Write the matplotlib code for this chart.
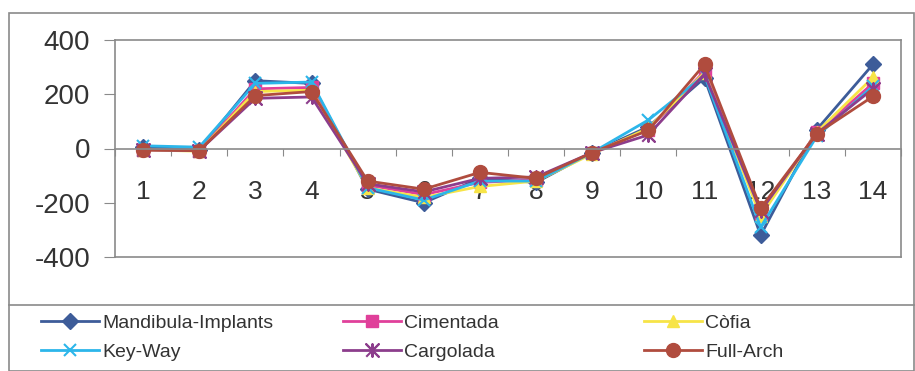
import matplotlib.pyplot as plt
from matplotlib.patches import Rectangle
from matplotlib.lines import Line2D
import numpy as np

categories = list(range(1, 15))

mandibula = [5, -5, 250, 240, -150, -200, -110, -125, -15, 80, 260, -320, 70, 310]
cimentada = [-5, -8, 220, 225, -135, -170, -125, -115, -15, 70, 285, -240, 60, 240]
cofia = [-5, -10, 210, 215, -145, -180, -140, -120, -20, 75, 280, -250, 60, 262]
keyway = [10, 5, 240, 245, -145, -190, -120, -120, -15, 105, 270, -290, 45, 230]
cargolada = [-5, -8, 185, 190, -130, -160, -110, -105, -15, 50, 275, -230, 55, 220]
fullarch = [-5, -8, 195, 210, -120, -150, -88, -110, -15, 67, 310, -220, 55, 192]

names = ['Mandibula-Implants', 'Cimentada', 'Còfia', 'Key-Way', 'Cargolada', 'Full-Arch']
series = [mandibula, cimentada, cofia, keyway, cargolada, fullarch]
colors = ['#3d5c99', '#e0409a', '#f7e447', '#2cb6ea', '#8c3d8c', '#b04c3e']
# excel-style star: x with a vertical bar
star = [(-1, -1), (1, 1), (0, 0), (-1, 1), (1, -1), (0, 0), (0, 1), (0, -1), (0, 0)]
markers = ['D', 's', '^', 'x', star, 'o']
msizes = [8, 8, 9, 9, 9, 10]

plt.rcParams['font.family'] = ['Liberation Sans', 'DejaVu Sans']
plt.rcParams['axes.unicode_minus'] = False

W, H = 915, 371
fig = plt.figure(figsize=(W / 100, H / 100), dpi=100)

# outer chart border and legend box
fig.patches.append(Rectangle((9 / W, 0), 905 / W, 1 - 13 / H, transform=fig.transFigure,
                             fill=False, edgecolor='#8a8a8a', linewidth=1.2))
fig.lines.append(Line2D([9 / W, 914 / W], [1 - 305 / H, 1 - 305 / H], transform=fig.transFigure,
                        color='#8a8a8a', linewidth=1.2))

ax = fig.add_axes([115 / W, 1 - 257 / H, 786 / W, 217 / H])
x = np.arange(1, 15)
for vals, name, c, m, ms in zip(series, names, colors, markers, msizes):
    ax.plot(x, vals, color=c, marker=m, markersize=ms, linewidth=2, label=name,
            markeredgewidth=1.5 if m in ('x',) or isinstance(m, list) else 1,
            markeredgecolor=c)

ax.set_xlim(0.5, 14.5)
ax.set_ylim(-400, 400)
ax.set_yticks([-400, -200, 0, 200, 400])
ax.tick_params(axis='y', direction='out', length=8, color='#8a8a8a', labelsize=20,
               labelcolor='#333333', pad=10)

for s in ax.spines.values():
    s.set_color('#8a8a8a')
    s.set_linewidth(1.2)
ax.spines['bottom'].set_position(('data', 0))
ax.plot([0, 1], [0, 0], transform=ax.transAxes, color='#8a8a8a', linewidth=1.2, clip_on=False)

ax.set_xticks(np.arange(0.5, 15, 1))
ax.set_xticklabels([])
ax.set_xticks(x, minor=True)
ax.set_xticklabels([str(c) for c in categories], minor=True)
ax.tick_params(axis='x', which='major', direction='out', length=5, color='#8a8a8a')
ax.tick_params(axis='x', which='minor', length=0, labelsize=19, labelcolor='#333333', pad=23)

handles = ax.get_legend_handles_labels()[0]
cols = [(0, 3), (1, 4), (2, 5)]
xpos = [37, 339, 640]
for (i, j), xp in zip(cols, xpos):
    fig.legend([handles[i], handles[j]], [names[i], names[j]], loc='upper left',
               bbox_to_anchor=(xp / W, 1 - 310 / H), frameon=False,
               handlelength=3.0, handletextpad=0.15, labelspacing=0.62, borderaxespad=0,
               borderpad=0.2, labelcolor='#333333',
               prop={'family': ['Liberation Sans'], 'size': 14})

fig.savefig('out.png', dpi=100)
